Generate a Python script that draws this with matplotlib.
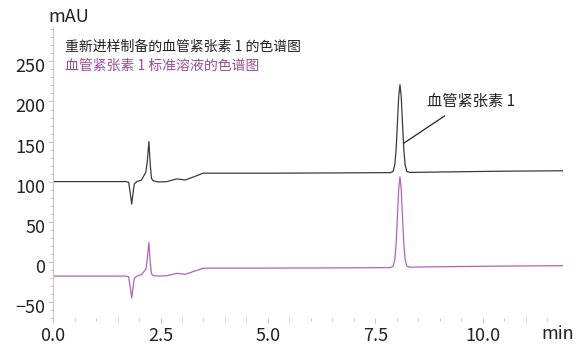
import matplotlib
matplotlib.use("Agg")
import matplotlib.pyplot as plt
from matplotlib.ticker import MultipleLocator
from matplotlib.transforms import ScaledTranslation

plt.rcParams['font.family'] = ['Noto Sans CJK SC', 'DejaVu Sans']

# retention time (min) and detector signal (mAU)
time = [0.0, 1.0, 1.70, 1.76, 1.79, 1.83, 1.86, 1.89, 1.95, 2.06, 2.12, 2.16, 2.19, 2.23,
        2.26, 2.29, 2.33, 2.45, 2.65, 2.88, 3.07, 3.28, 3.49, 3.8, 5.0, 6.5, 7.85, 7.91,
        7.95, 7.98, 8.01, 8.04, 8.07, 8.10, 8.13, 8.16, 8.19, 8.23, 8.30, 9.5, 10.5, 11.85]
reinjected = [100, 100, 100, 99, 88, 72, 85, 97, 100, 102, 108, 112, 124, 150,
              122, 104, 101, 99.5, 100, 103.4, 102, 106, 110.5, 110.5, 110.5, 110.8, 111.2, 112.6,
              121, 139.6, 171.5, 205.6, 221, 205.6, 171.5, 139.6, 121, 112.6, 111.5, 112.3, 113, 113.5]
standard = [-18, -18, -18, -19, -30, -45, -33, -21, -18, -16, -12, -9.5, 2, 24,
            0, -15, -17.5, -18, -17.5, -14.5, -15.8, -12, -8.3, -8, -8, -7.8, -7.4, -5.8,
            2.7, 22, 55, 90, 106, 90, 55, 22, 2.7, -5.8, -6.8, -6, -5.5, -5]

label_reinjected = "重新进样制备的血管紧张素 1 的色谱图"
label_standard = "血管紧张素 1 标准溶液的色谱图"
peak_name = "血管紧张素 1"

black = "#3a3a3a"
magenta = "#b562b5"
magenta_text = "#9c4c9c"
axis_grey = "#c8c8c8"

fig = plt.figure(figsize=(5.84, 3.45), dpi=100)
ax = fig.add_axes([0.0908, 0.079, 0.876, 0.8427])

ax.plot(time, reinjected, color=black, linewidth=0.9)
ax.plot(time, standard, color=magenta, linewidth=0.9)

ax.set_xlim(0, 11.9)
ax.set_ylim(-70, 293)

for side in ['top', 'right', 'bottom']:
    ax.spines[side].set_visible(False)
ax.spines['left'].set_color(axis_grey)
ax.spines['left'].set_linewidth(0.8)

ax.xaxis.set_major_locator(MultipleLocator(2.5))
ax.xaxis.set_minor_locator(MultipleLocator(0.5))
ax.yaxis.set_major_locator(MultipleLocator(50))
ax.yaxis.set_minor_locator(MultipleLocator(10))
ax.xaxis.set_major_formatter(lambda v, p: f"{v:.1f}")

ax.tick_params(which='major', length=3.5, width=0.8, color=axis_grey, labelsize=13,
               labelcolor='#222222')
ax.tick_params(which='minor', length=2, width=0.7, color=axis_grey)
ax.tick_params(axis='y', pad=2)
ax.tick_params(axis='x', pad=3)

shift = ScaledTranslation(0, -4 / 100, fig.dpi_scale_trans)
for lab in ax.get_yticklabels():
    lab.set_transform(lab.get_transform() + shift)

ax.text(0.28, 268, label_reinjected, fontsize=10, color='#222222', va='center', ha='left')
ax.text(0.28, 244.6, label_standard, fontsize=10, color=magenta_text, va='center', ha='left')

ax.annotate(peak_name, xy=(8.16, 148), xytext=(8.70, 200), fontsize=11, color='#222222',
            ha='left', va='center',
            arrowprops=dict(arrowstyle='-', color='#222222', linewidth=0.9,
                            relpos=(0.3, 0.0), shrinkA=4, shrinkB=0))

fig.text(48 / 584, 1 - 17.5 / 345, "mAU", fontsize=13, color='#222222', ha='left', va='center')
fig.text(558 / 584, 1 - 334 / 345, "min", fontsize=13, color='#222222', ha='center', va='center')

fig.savefig("out.png", dpi=100)
